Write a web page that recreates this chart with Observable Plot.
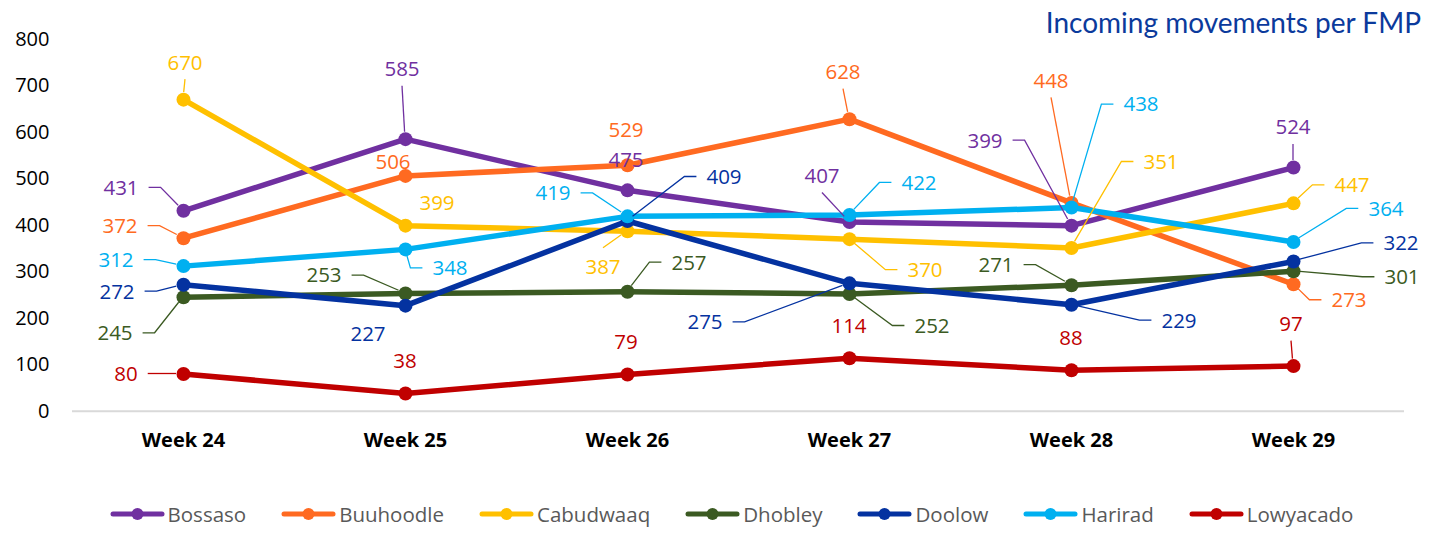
<!DOCTYPE html>
<html><head><meta charset="utf-8">
<script src="https://cdn.jsdelivr.net/npm/d3@7"></script>
<script src="https://cdn.jsdelivr.net/npm/@observablehq/plot@0.6"></script>
<style>
body{margin:0;background:#fff;font-family:"Open Sans",sans-serif;}
#wrap{position:relative;width:1436px;height:534px;overflow:hidden;background:#fff}
#title{position:absolute;right:15px;top:8px;font-family:Lato,"Open Sans",sans-serif;font-size:28px;line-height:28px;color:#0b3a9c;white-space:nowrap}
#legend{position:absolute;left:0;top:500px;width:1436px;height:28px;display:flex;justify-content:center;align-items:center;padding-left:27px;box-sizing:border-box}
.item{display:flex;align-items:center;margin:0 17.5px;font-size:20.5px;color:#595959;font-family:"Open Sans",sans-serif}
.item svg{margin-right:3px}
</style></head><body>
<div id="wrap"><div id="chart"></div><div id="title">Incoming movements per FMP</div><div id="legend"></div></div>
<script>
const weeks = ["Week 24", "Week 25", "Week 26", "Week 27", "Week 28", "Week 29"];
const sites = ["Bossaso", "Buuhoodle", "Cabudwaaq", "Dhobley", "Doolow", "Harirad", "Lowyacado"];
const siteColors = ["#7030A0", "#FF6A21", "#FFC000", "#3B5A22", "#0432A0", "#00B0F0", "#C00000"];
const yTicks = [0, 100, 200, 300, 400, 500, 600, 700, 800];

const bossaso   = [431, 585, 475, 407, 399, 524];
const buuhoodle = [372, 506, 529, 628, 448, 273];
const cabudwaaq = [670, 399, 387, 370, 351, 447];
const dhobley   = [245, 253, 257, 252, 271, 301];
const doolow    = [272, 227, 409, 275, 229, 322];
const harirad   = [312, 348, 419, 422, 438, 364];
const lowyacado = [80, 38, 79, 114, 88, 97];

// label placement (annotation layout): [dx px, dy px, leader line?]
const bossasoLabels   = [[-62,-23,1],[-3,-70,1],[-1,-30,0],[-27,-46,1],[-86,-85,1],[0,-40,1]];
const buuhoodleLabels = [[-63,-12,1],[-12,-14,0],[-1,-35,0],[-6,-47,1],[-20,-122,1],[56,16,1]];
const cabudwaaqLabels = [[2,-37,1],[32,-23,0],[-24,36,1],[76,31,1],[90,-86,1],[59,-18,1]];
const dhobleyLabels   = [[-68,36,1],[-81,-18,1],[62,-29,1],[83,32,1],[-75,-20,1],[109,6,1]];
const doolowLabels    = [[-66,7,1],[-37,28,0],[97,-44,1],[-144,39,1],[108,16,1],[108,-18,1]];
const hariradLabels   = [[-67,-6,1],[45,19,1],[-74,-23,1],[70,-32,1],[70,-103,1],[93,-33,1]];
const lowyacadoLabels = [[-57,0,1],[0,-32,0],[-1,-32,0],[0,-32,0],[0,-32,0],[-2,-42,1]];

const seriesValues = [bossaso, buuhoodle, cabudwaaq, dhobley, doolow, harirad, lowyacado];
const seriesLabels = [bossasoLabels, buuhoodleLabels, cabudwaaqLabels, dhobleyLabels, doolowLabels, hariradLabels, lowyacadoLabels];

const rows = sites.flatMap((s, i) => weeks.map((w, j) => ({site: s, week: w, value: seriesValues[i][j], lab: seriesLabels[i][j]})));

const marks = [Plot.ruleY([0], {stroke: "#d9d9d9", strokeWidth: 2})];
sites.forEach(s => {
  const d = rows.filter(r => r.site === s);
  marks.push(Plot.line(d, {x: "week", y: "value", stroke: "site", strokeWidth: 5.5, strokeLinejoin: "round", strokeLinecap: "round"}));
  marks.push(Plot.dot(d, {x: "week", y: "value", fill: "site", r: 7, stroke: "none"}));
});
marks.push(Plot.axisY({ticks: yTicks, tickSize: 0, tickPadding: 23, label: null, fontSize: 20, fill: "#000"}));
marks.push(Plot.axisX({tickSize: 0, tickPadding: 22, label: null, fontSize: 20, fontWeight: "bold", fill: "#000"}));

const plot = Plot.plot({
  width: 1436, height: 470,
  marginLeft: 72, marginRight: 32, marginTop: 38.7, marginBottom: 59.3,
  style: {fontFamily: "Open Sans", fontSize: "20px", background: "#fff", color: "#000", overflow: "visible"},
  x: {type: "point", domain: weeks, padding: 0.5, label: null},
  y: {domain: [0, 800], label: null},
  color: {domain: sites, range: siteColors},
  marks
});
document.getElementById("chart").appendChild(plot);

// data labels with leader lines, positioned through Plot's scales
const xs = plot.scale("x"), ys = plot.scale("y"), cs = plot.scale("color");
const g = d3.select(plot).append("g").attr("font-family", "Open Sans").attr("font-size", 20.5);
const lg = g.append("g"), tg = g.append("g");
rows.forEach(r => {
  const px = xs.apply(r.week), py = ys.apply(r.value);
  const [dx, dy, leader] = r.lab;
  const lx = px + dx, ly = py + dy;
  const col = cs.apply(r.site);
  const t = tg.append("text").attr("x", lx).attr("y", ly).attr("dy", "0.36em")
    .attr("text-anchor", "middle").attr("fill", col).text(r.value);
  if (!leader) return;
  const hw = t.node().getBBox().width / 2;
  let pts;
  if (Math.abs(dx) < 30) {
    pts = [[lx, dy < 0 ? ly + 17 : ly - 19]];
  } else if (dx < 0) {
    const sx = lx + hw + 10;
    pts = [[sx, ly], [sx + 12, ly]];
  } else {
    const sx = lx - hw - 10;
    pts = [[sx, ly], [sx - 12, ly]];
  }
  const [ax, ay] = pts[pts.length - 1];
  const L = Math.hypot(px - ax, py - ay), k = L > 7 ? (L - 7) / L : 0;
  pts.push([ax + (px - ax) * k, ay + (py - ay) * k]);
  lg.append("path").attr("d", d3.line()(pts)).attr("fill", "none").attr("stroke", col).attr("stroke-width", 1.3);
});

// legend
const leg = d3.select("#legend");
sites.forEach((s, i) => {
  const it = leg.append("div").attr("class", "item");
  const sv = it.append("svg").attr("width", 55).attr("height", 16);
  sv.append("line").attr("x1", 3).attr("x2", 52).attr("y1", 8).attr("y2", 8).attr("stroke", siteColors[i]).attr("stroke-width", 5).attr("stroke-linecap", "round");
  sv.append("circle").attr("cx", 27.5).attr("cy", 8).attr("r", 6).attr("fill", siteColors[i]);
  it.append("span").text(s);
});
</script>
</body></html>
